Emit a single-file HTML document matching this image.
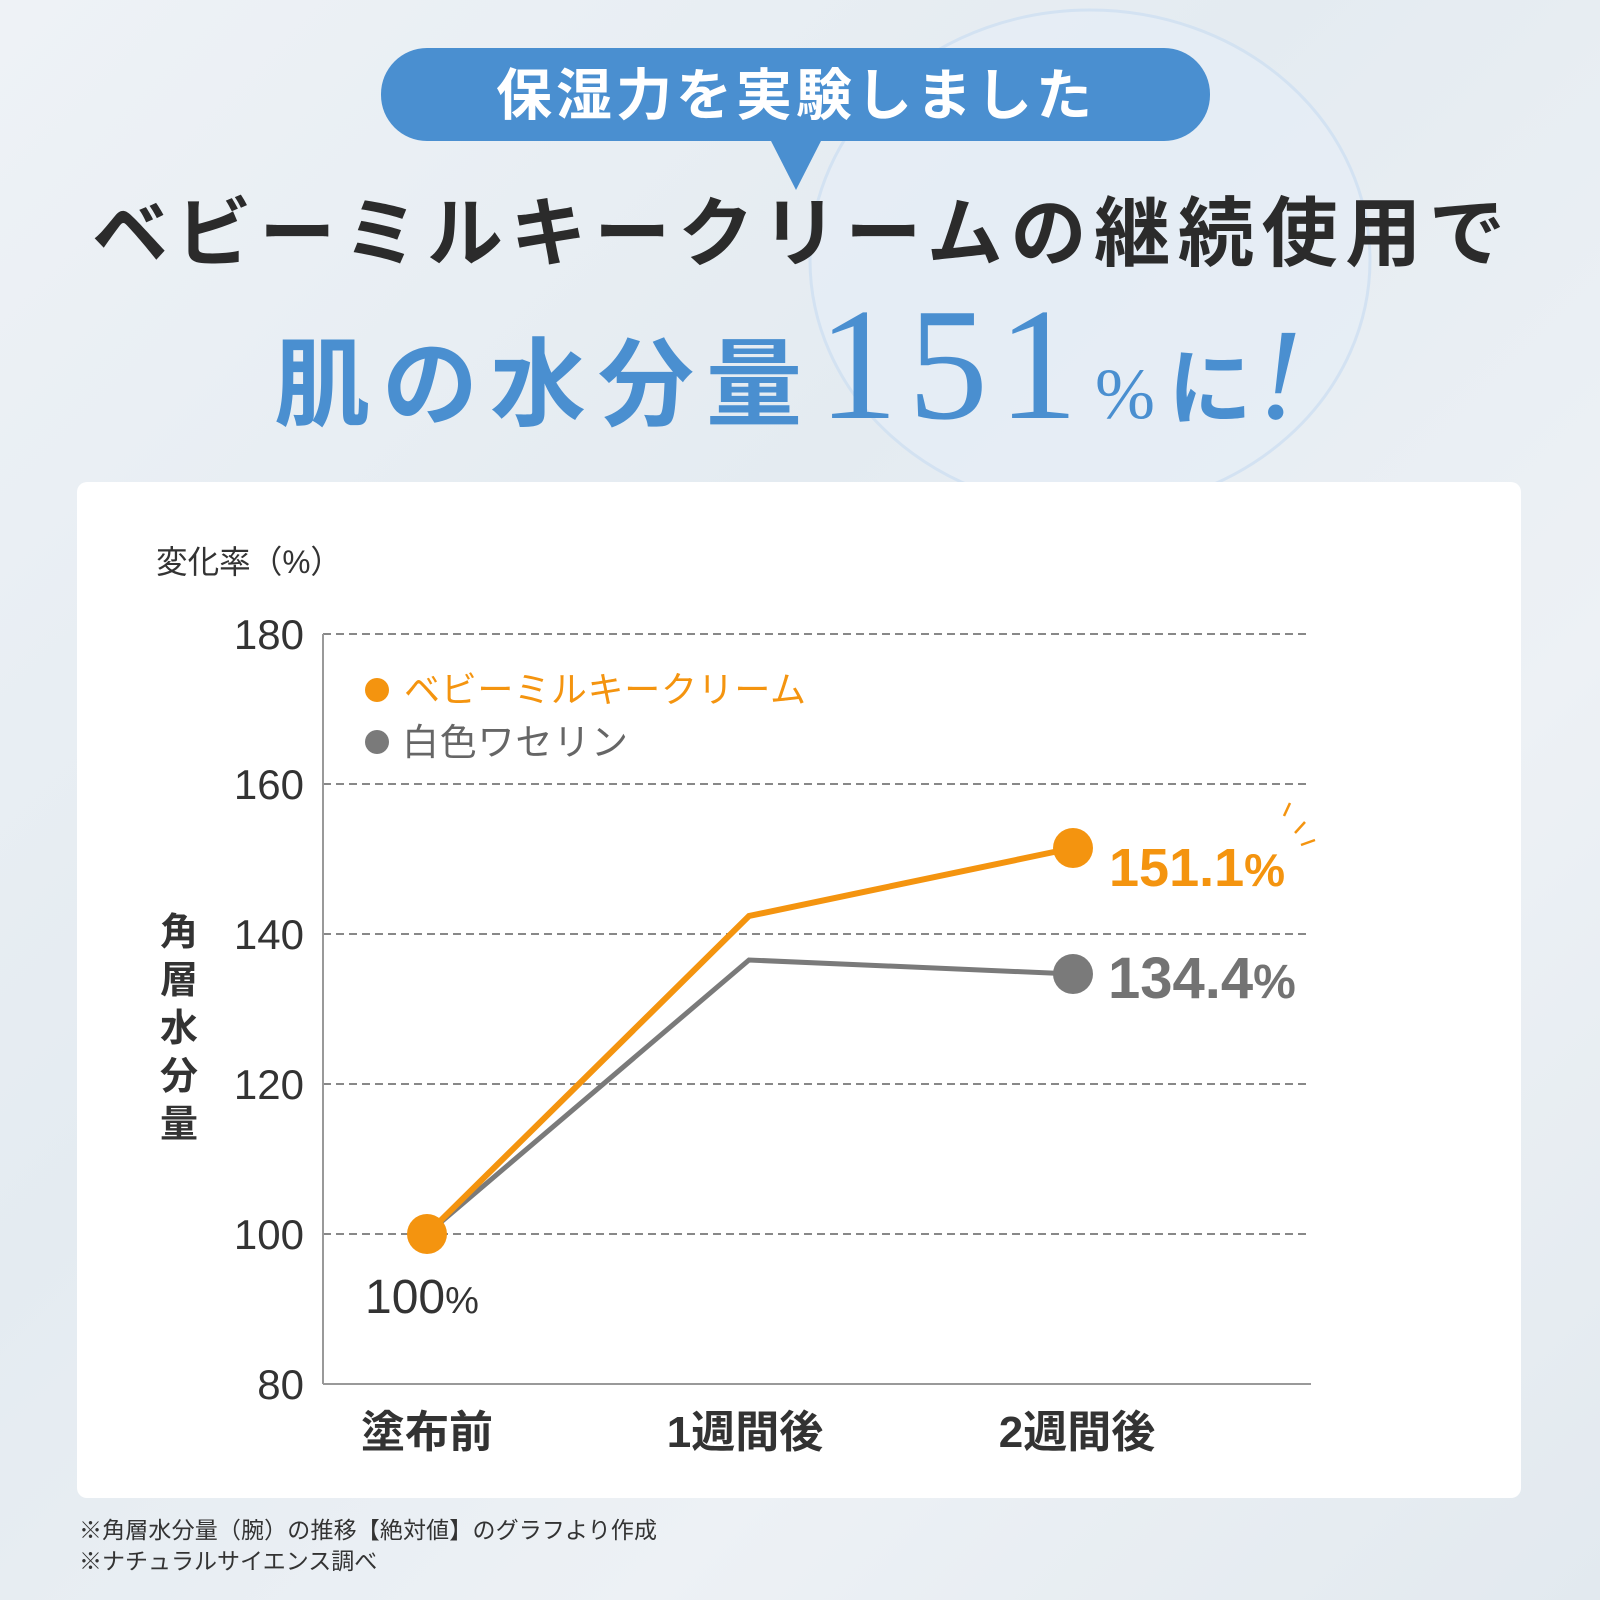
<!DOCTYPE html>
<html><head><meta charset="utf-8"><style>
html,body{margin:0;padding:0;width:1600px;height:1600px;overflow:hidden}
body{background:linear-gradient(135deg,#eef2f6 0%,#e4ebf1 40%,#edf1f5 70%,#e2e9ef 100%);font-family:"Liberation Sans","Noto Sans CJK JP",sans-serif}
</style></head><body>
<svg width="1600" height="1600" viewBox="0 0 1600 1600" xmlns="http://www.w3.org/2000/svg" style="position:absolute;left:0;top:0;font-family:'Liberation Sans','Noto Sans CJK JP',sans-serif">
<ellipse cx="1090" cy="260" rx="280" ry="250" fill="#e6eef6" stroke="#cfe0f2" stroke-width="3" opacity="0.8"/>
<rect x="381" y="48" width="829" height="93" rx="46" fill="#4a8fd0"/>
<polygon points="770,139 822,139 796,190" fill="#4a8fd0"/>
<text x="796" y="115" font-size="56" font-weight="bold" fill="#fff" text-anchor="middle" letter-spacing="4">保湿力を実験しました</text>
<text x="92" y="260" font-size="76" font-weight="bold" fill="#2b2b2b" textLength="1413" lengthAdjust="spacing">ベビーミルキークリームの継続使用で</text>
<text x="274" y="418" font-size="96" font-weight="bold" fill="#4a8fd0" textLength="528" lengthAdjust="spacing">肌の水分量</text>
<text x="818" y="418" font-size="160" fill="#4a8fd0" font-family="Liberation Serif,serif" letter-spacing="10">151</text>
<text x="1095" y="418" font-size="72" fill="#4a8fd0" font-family="Liberation Serif,serif">%</text>
<text x="1168" y="418" font-size="84" font-weight="bold" fill="#4a8fd0">に</text>
<text x="1258" y="418" font-size="130" fill="#4a8fd0" font-style="italic" font-family="Liberation Serif,serif">!</text>
<rect x="77" y="482" width="1444" height="1016" rx="10" fill="#fff"/>
<text x="156" y="573" font-size="32" fill="#333" textLength="186" lengthAdjust="spacingAndGlyphs">変化率（%）</text>
<g stroke="#888" stroke-width="2" stroke-dasharray="8,5">
<line x1="323" y1="634" x2="1311" y2="634"/><line x1="323" y1="784" x2="1311" y2="784"/><line x1="323" y1="934" x2="1311" y2="934"/><line x1="323" y1="1084" x2="1311" y2="1084"/><line x1="323" y1="1234" x2="1311" y2="1234"/>
</g>
<line x1="323" y1="634" x2="323" y2="1384" stroke="#999" stroke-width="2"/>
<line x1="323" y1="1384" x2="1311" y2="1384" stroke="#999" stroke-width="2"/>
<g font-size="42" fill="#333" text-anchor="end">
<text x="304" y="649">180</text><text x="304" y="799">160</text><text x="304" y="949">140</text><text x="304" y="1099">120</text><text x="304" y="1249">100</text><text x="304" y="1399">80</text>
</g>
<g font-size="38" font-weight="bold" fill="#333" text-anchor="middle">
<text x="179" y="945">角</text><text x="179" y="993">層</text><text x="179" y="1041">水</text><text x="179" y="1089">分</text><text x="179" y="1137">量</text>
</g>
<circle cx="377" cy="690" r="12" fill="#f4940f"/>
<text x="404" y="702" font-size="36" fill="#f4940f" textLength="402" lengthAdjust="spacing">ベビーミルキークリーム</text>
<circle cx="377" cy="742" r="12" fill="#7a7a7a"/>
<text x="402" y="755" font-size="37" fill="#666" textLength="226" lengthAdjust="spacing">白色ワセリン</text>
<polyline points="427,1234 749,960 1073,974" fill="none" stroke="#7a7a7a" stroke-width="5"/>
<polyline points="427,1234 749,916 1073,848" fill="none" stroke="#f4940f" stroke-width="6"/>
<circle cx="1073" cy="974" r="20" fill="#7a7a7a"/>
<circle cx="1073" cy="848" r="20" fill="#f4940f"/>
<circle cx="427" cy="1234" r="20" fill="#f4940f"/>
<text x="365" y="1313" font-size="48" fill="#333">100<tspan font-size="38">%</tspan></text>
<text x="1109" y="886" font-size="54" font-weight="bold" fill="#f4940f">151.1<tspan font-size="46">%</tspan></text>
<g stroke="#f4940f" stroke-width="2.5"><line x1="1284" y1="816" x2="1290" y2="803"/><line x1="1295" y1="833" x2="1305" y2="822"/><line x1="1301" y1="845" x2="1315" y2="840"/></g>
<text x="1108" y="998" font-size="58" font-weight="bold" fill="#737373">134.4<tspan font-size="48">%</tspan></text>
<g font-size="44" font-weight="bold" fill="#333" text-anchor="middle">
<text x="427" y="1447">塗布前</text><text x="745" y="1447">1週間後</text><text x="1077" y="1447">2週間後</text>
</g>
<text x="79" y="1538" font-size="23" fill="#333" textLength="578" lengthAdjust="spacing">※角層水分量（腕）の推移【絶対値】のグラフより作成</text>
<text x="79" y="1569" font-size="23" fill="#333">※ナチュラルサイエンス調べ</text>
</svg>
</body></html>
